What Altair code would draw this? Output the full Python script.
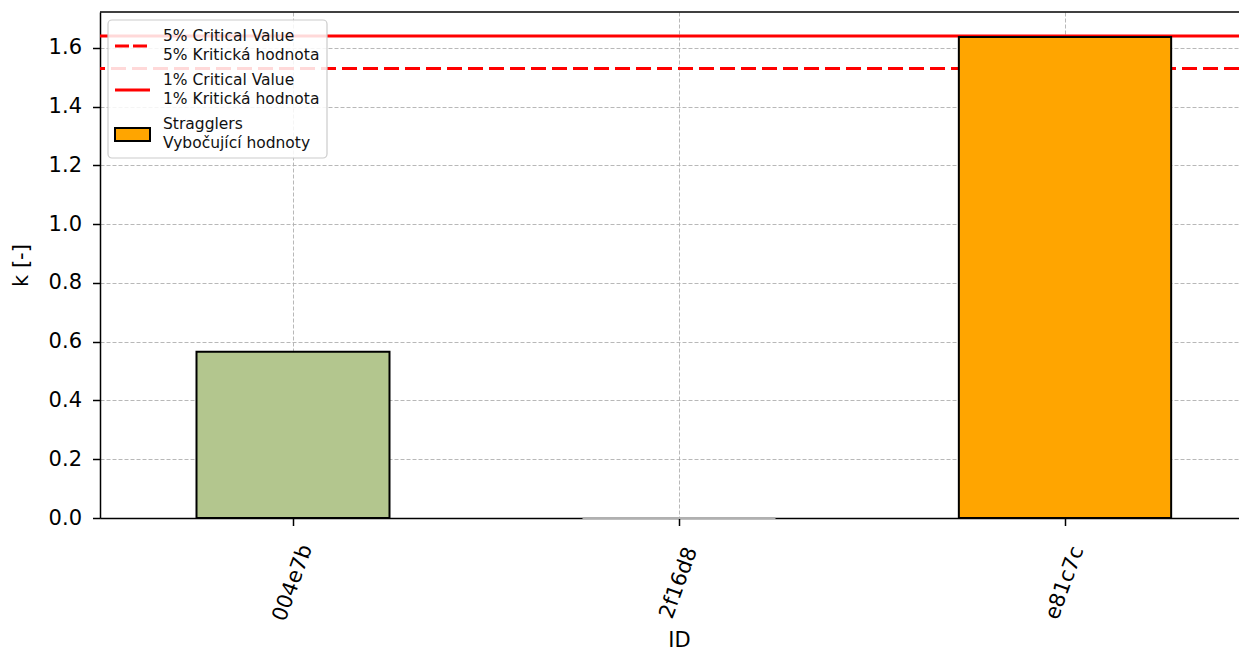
import altair as alt
import pandas as pd

# ---- data ----
ids = ["004e7b", "2f16d8", "e81c7c"]
k_values = [0.566, 0.0, 1.637]
is_straggler = [False, False, True]
crit_names = ["5% Critical Value", "1% Critical Value"]
crit_values = [1.53, 1.64]
y_ticks = [0.0, 0.2, 0.4, 0.6, 0.8, 1.0, 1.2, 1.4, 1.6]
y_max = 1.722

# ---- styles ----
bar_fill = ["#b3c68e", "#b3c68e", "#ffa500"]
bar_stroke = ["#000000", "#b0b0b0", "#000000"]
FONT = "DejaVu Sans"
DASH = [15, 6]

df = pd.DataFrame({"ID": ids, "k": k_values, "straggler": is_straggler,
                   "fill": bar_fill, "edge": bar_stroke})
crit_df = pd.DataFrame({"name": crit_names, "value": crit_values})

W, H = 1139, 506

xscale = alt.Scale(domain=ids, range=[0, 1158], paddingInner=0.5, paddingOuter=0.25)
yscale = alt.Scale(domain=[0, y_max], nice=False, zero=True)

x_enc = alt.X("ID:N", scale=xscale, sort=ids,
              axis=alt.Axis(title="ID", labelAngle=290, labelAlign="center",
                            labelBaseline="middle", grid=True, bandPosition=0.5,
                            labelPadding=57, titleY=128, titleBaseline="alphabetic"))
y_enc = alt.Y("k:Q", scale=yscale,
              axis=alt.Axis(title="k [-]", values=y_ticks, format=".1f",
                            labelPadding=11, titlePadding=17))

normal = alt.Chart(df).transform_filter("!datum.straggler").mark_bar(
    strokeWidth=2).encode(
    x=x_enc, y=y_enc,
    fill=alt.Fill("fill:N", scale=None),
    stroke=alt.Stroke("edge:N", scale=None),
)

strag = alt.Chart(df).transform_filter("datum.straggler").mark_bar(
    strokeWidth=2, width=alt.RelativeBandSize(1.1)).encode(
    x=alt.X("ID:N", scale=xscale, sort=ids),
    y=alt.Y("k:Q", scale=yscale),
    fill=alt.Fill("fill:N", scale=None),
    stroke=alt.Stroke("edge:N", scale=None),
)

rule5 = alt.Chart(crit_df).transform_filter("datum.name == '5% Critical Value'").mark_rule(
    color="#ff0000", strokeWidth=3, strokeDash=DASH).encode(
    y=alt.Y("value:Q", scale=yscale))
rule1 = alt.Chart(crit_df).transform_filter("datum.name == '1% Critical Value'").mark_rule(
    color="#ff0000", strokeWidth=3).encode(
    y=alt.Y("value:Q", scale=yscale))

one = alt.Chart(df).transform_filter("datum.ID == '004e7b'")

# top spine (right spine lies outside the picture)
top_spine = one.mark_rule(color="black", strokeWidth=1.5).encode(
    x=alt.value(0), x2=alt.value(W), y=alt.value(0))

# ---- manual legend ----
leg_box = one.mark_rect(
    fill="white", fillOpacity=0.85, stroke="#cccccc", strokeWidth=1.2, cornerRadius=4).encode(
    x=alt.value(8), x2=alt.value(227), y=alt.value(8), y2=alt.value(146))

def leg_rule(yv, dash=None):
    kw = dict(color="#ff0000", strokeWidth=3)
    if dash:
        kw["strokeDash"] = dash
    return one.mark_rule(**kw).encode(
        x=alt.value(15), x2=alt.value(50), y=alt.value(yv))

def leg_text(yv, txt):
    return one.mark_text(
        align="left", baseline="middle", font=FONT, fontSize=15.5, color="#111111",
        text=txt).encode(x=alt.value(63), y=alt.value(yv))

leg_rect = one.mark_rect(
    fill="#ffa500", stroke="black", strokeWidth=2).encode(
    x=alt.value(15), x2=alt.value(50), y=alt.value(116), y2=alt.value(129))

legend = [
    leg_box,
    leg_rule(34, [14, 4]),
    leg_text(24, "5% Critical Value"), leg_text(43, "5% Kritická hodnota"),
    leg_rule(78),
    leg_text(68, "1% Critical Value"), leg_text(87, "1% Kritická hodnota"),
    leg_rect,
    leg_text(112, "Stragglers"), leg_text(131, "Vybočující hodnoty"),
]

chart = alt.layer(rule5, rule1, normal, strag, top_spine, *legend).properties(
    width=W, height=H,
    autosize=alt.AutoSizeParams(type="none"),
    padding={"left": 92, "top": 4, "right": 0, "bottom": 135},
).configure_view(
    stroke=None
).configure_axis(
    labelFont=FONT, titleFont=FONT, labelFontSize=21, titleFontSize=21,
    labelColor="black", titleColor="black", titleFontWeight="normal",
    domainColor="black", domainWidth=1.5, tickColor="black", tickWidth=1.5,
    tickSize=7.5,
    gridColor="#b0b0b0", gridDash=[4, 2], gridWidth=0.9,
)

chart.save("out.html", embed_options={"renderer": "svg", "actions": False})
